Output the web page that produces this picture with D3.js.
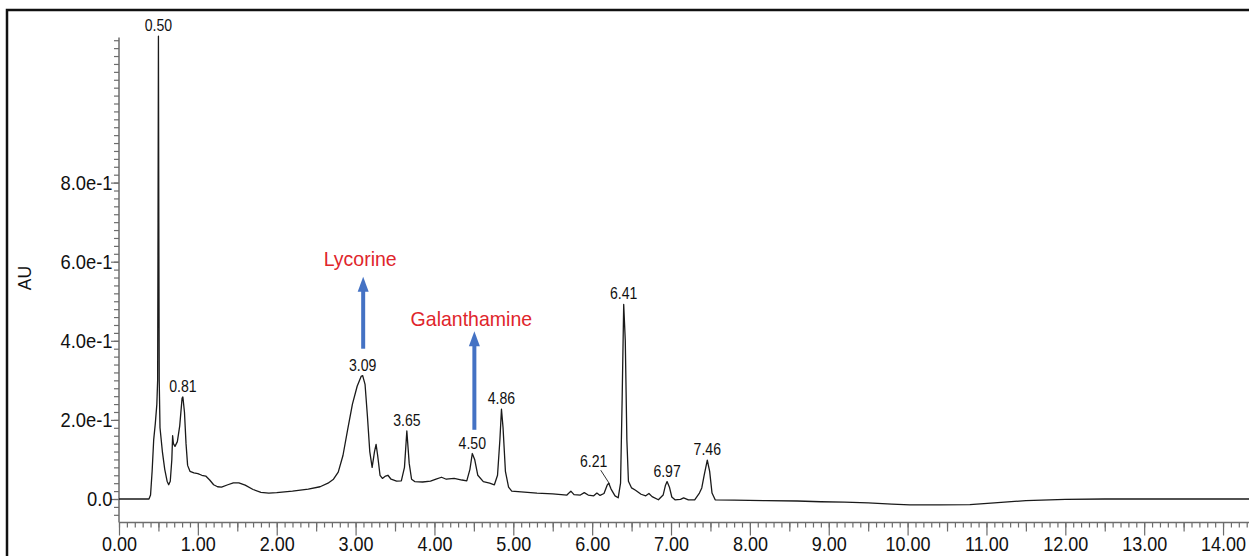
<!DOCTYPE html>
<html>
<head>
<meta charset="utf-8">
<script src="https://cdn.jsdelivr.net/npm/d3@7"></script>
<style>
  html, body { margin: 0; padding: 0; background: #fff; }
  svg { display: block; font-family: "Liberation Sans", Arial, sans-serif; }
</style>
</head>
<body>
<svg id="chart" width="1249" height="556"></svg>
<script>
// Chromatogram trace: retention time (min) and absorbance (AU)
const traceTime = [
  0.00, 0.38, 0.40, 0.42, 0.44, 0.46, 0.48, 0.49, 0.495, 0.50, 0.505, 0.51, 0.52, 0.55, 0.58, 0.61, 0.63,
  0.65, 0.67, 0.68, 0.69, 0.71, 0.74, 0.77, 0.80, 0.81, 0.83, 0.85, 0.87, 0.90, 0.95, 1.00, 1.05, 1.10,
  1.15, 1.20, 1.25, 1.30, 1.38, 1.45, 1.52, 1.60, 1.70, 1.80, 1.90, 2.00, 2.20, 2.40, 2.55, 2.65, 2.72,
  2.78, 2.84, 2.90, 2.96, 3.02, 3.07, 3.09, 3.12, 3.15, 3.18, 3.21, 3.24, 3.26, 3.28, 3.31, 3.34, 3.38,
  3.41, 3.45, 3.52, 3.58, 3.62, 3.65, 3.68, 3.71, 3.75, 3.85, 3.95, 4.02, 4.09, 4.15, 4.25, 4.35, 4.41,
  4.45, 4.48, 4.51, 4.55, 4.62, 4.70, 4.76, 4.80, 4.83, 4.85, 4.87, 4.90, 4.94, 4.98, 5.10, 5.30, 5.50,
  5.68, 5.73, 5.77, 5.85, 5.90, 5.95, 6.02, 6.06, 6.10, 6.15, 6.19, 6.21, 6.24, 6.29, 6.33, 6.36, 6.38,
  6.40, 6.42, 6.44, 6.46, 6.50, 6.55, 6.62, 6.68, 6.72, 6.76, 6.84, 6.90, 6.93, 6.95, 6.98, 7.01, 7.05,
  7.12, 7.16, 7.22, 7.30, 7.36, 7.39, 7.42, 7.46, 7.49, 7.52, 7.56, 7.80, 8.20, 8.60, 8.90, 9.20, 9.50,
  9.80, 10.03, 10.40, 10.79, 11.10, 11.50, 12.00, 12.50, 13.00, 13.50, 14.00, 14.40
];
const traceAU = [
  0.000, 0.000, 0.010, 0.070, 0.150, 0.190, 0.240, 0.300, 0.700, 1.170, 0.700, 0.300, 0.180, 0.120, 0.075, 0.045, 0.036,
  0.045, 0.100, 0.160, 0.140, 0.133, 0.145, 0.185, 0.255, 0.258, 0.220, 0.140, 0.085, 0.070, 0.066, 0.064, 0.060, 0.058,
  0.048, 0.036, 0.031, 0.030, 0.036, 0.041, 0.041, 0.035, 0.024, 0.017, 0.015, 0.016, 0.020, 0.025, 0.031, 0.040, 0.050,
  0.068, 0.110, 0.176, 0.240, 0.285, 0.310, 0.312, 0.290, 0.210, 0.120, 0.080, 0.120, 0.138, 0.110, 0.060, 0.052, 0.058,
  0.060, 0.050, 0.045, 0.046, 0.080, 0.172, 0.090, 0.050, 0.044, 0.043, 0.045, 0.050, 0.055, 0.050, 0.052, 0.048, 0.046,
  0.075, 0.115, 0.100, 0.060, 0.044, 0.040, 0.036, 0.060, 0.150, 0.227, 0.180, 0.070, 0.030, 0.020, 0.018, 0.015, 0.013,
  0.010, 0.020, 0.011, 0.010, 0.016, 0.010, 0.008, 0.015, 0.009, 0.014, 0.035, 0.040, 0.025, 0.008, 0.003, 0.040, 0.250,
  0.492, 0.400, 0.150, 0.045, 0.028, 0.022, 0.012, 0.008, 0.014, 0.006, -0.002, 0.010, 0.035, 0.044, 0.030, 0.005, -0.002,
  -0.001, 0.003, -0.002, -0.002, 0.015, 0.028, 0.060, 0.098, 0.070, 0.015, -0.002, -0.003, -0.004, -0.005, -0.007, -0.008, -0.010,
  -0.013, -0.015, -0.015, -0.014, -0.010, -0.004, -0.001, 0.000, 0.000, 0.000, 0.000, 0.000
];

// Labelled peaks (retention time label and apex height)
const peakRT = [0.50, 0.81, 3.09, 3.65, 4.50, 4.86, 6.21, 6.41, 6.97, 7.46];
const peakApexTime = [0.50, 0.81, 3.09, 3.65, 4.48, 4.85, 6.21, 6.40, 6.95, 7.46];
const peakApexAU = [1.170, 0.258, 0.312, 0.172, 0.115, 0.227, 0.040, 0.492, 0.044, 0.098];

// Compound annotations with arrows
const compoundNames = ["Lycorine", "Galanthamine"];
const compoundTime = [3.09, 4.50];
const arrowFromAU = [0.380, 0.175];
const arrowToAU = [0.562, 0.424];
const nameAU = [0.588, 0.437];

// Axis ticks
const xMajorTicks = d3.range(0, 15, 1);
const xHalfTicks = d3.range(0.5, 14.5, 1);
const xMinorTicks = d3.range(0, 144).map(i => i / 10);
const yMajorTicks = [0, 0.2, 0.4, 0.6, 0.8];
const yMinorTicks = d3.range(-3, 59).map(i => i / 50);

const svg = d3.select("#chart");

const x = d3.scaleLinear().domain([0, 14.4]).range([119, 119 + 14.4 * 78.86]);
const y = d3.scaleLinear().domain([0, 1]).range([499, 499 - 395.5]);
const yBottom = 522.5;
const yTop = 37.5;

// outer frame
svg.append("rect")
  .attr("x", 7).attr("y", 10)
  .attr("width", 1300).attr("height", 600)
  .attr("fill", "none").attr("stroke", "#111").attr("stroke-width", 2.5);

const axisColor = "#6d6d6d";

// x axis: minor, half and major ticks
function styleAxis(g) {
  g.select(".domain").remove();
  g.selectAll(".tick line").attr("stroke", axisColor).attr("stroke-width", 1.2);
}
svg.append("g").attr("transform", `translate(0,${yBottom})`)
  .call(d3.axisBottom(x).tickValues(xMinorTicks).tickSize(5).tickFormat(""))
  .call(styleAxis);
svg.append("g").attr("transform", `translate(0,${yBottom})`)
  .call(d3.axisBottom(x).tickValues(xHalfTicks).tickSize(9).tickFormat(""))
  .call(styleAxis);
const xMajor = svg.append("g").attr("transform", `translate(0,${yBottom})`)
  .call(d3.axisBottom(x).tickValues(xMajorTicks).tickSize(13).tickPadding(1).tickFormat(d3.format(".2f")))
  .call(styleAxis);
xMajor.selectAll(".tick text")
  .attr("fill", "#111").attr("font-size", 20)
  .attr("transform", "scale(0.9,1)");
svg.append("line")
  .attr("x1", x(0)).attr("x2", 1260).attr("y1", yBottom).attr("y2", yBottom)
  .attr("stroke", axisColor).attr("stroke-width", 1.5);

// y axis
const yMinorVisible = yMinorTicks.filter(v => y(v) >= yTop - 0.5 && y(v) <= yBottom);
svg.append("g").attr("transform", `translate(${x(0)},0)`)
  .call(d3.axisLeft(y).tickValues(yMinorVisible).tickSize(5).tickFormat(""))
  .call(styleAxis);
const yMajor = svg.append("g").attr("transform", `translate(${x(0)},0)`)
  .call(d3.axisLeft(y).tickValues(yMajorTicks).tickSize(8).tickPadding(-1)
    .tickFormat(v => v === 0 ? "0.0" : d3.format(".1e")(v)))
  .call(styleAxis);
yMajor.selectAll(".tick text")
  .attr("fill", "#111").attr("font-size", 20)
  .attr("transform", "scale(0.92,1)");
svg.append("line")
  .attr("x1", x(0)).attr("x2", x(0)).attr("y1", yTop).attr("y2", yBottom)
  .attr("stroke", axisColor).attr("stroke-width", 1.5);

// axis title
svg.append("text")
  .attr("transform", "translate(31,278) rotate(-90) scale(0.92,1)")
  .attr("text-anchor", "middle")
  .attr("font-size", 19).attr("fill", "#111")
  .text("AU");

// chromatogram trace
const trace = traceTime.map((t, i) => [t, traceAU[i]]);
svg.append("path")
  .datum(trace)
  .attr("fill", "none")
  .attr("stroke", "#1a1a1a")
  .attr("stroke-width", 1.3)
  .attr("stroke-linejoin", "round")
  .attr("d", d3.line().x(d => x(d[0])).y(d => y(d[1])));

// peak labels
const labelOffset = { 6.21: [-15, -16] };
peakRT.forEach((rt, i) => {
  const px = x(peakApexTime[i]);
  const py = y(peakApexAU[i]);
  const off = labelOffset[rt] || [0, -5];
  const lx = px + off[0], ly = py + off[1];
  if (labelOffset[rt]) {
    svg.append("line")
      .attr("x1", lx + 7).attr("y1", ly + 3)
      .attr("x2", px + 1).attr("y2", py + 1)
      .attr("stroke", "#333").attr("stroke-width", 1);
  }
  svg.append("text")
    .attr("transform", `translate(${lx},${ly}) scale(0.88,1)`)
    .attr("text-anchor", "middle")
    .attr("font-size", 16).attr("fill", "#111")
    .text(rt.toFixed(2));
});

// compound arrows and names
const arrowColor = "#4472c4";
compoundNames.forEach((name, i) => {
  const ax = x(compoundTime[i]) + 0.5;
  const y0 = y(arrowFromAU[i]);
  const y1 = y(arrowToAU[i]);
  svg.append("line")
    .attr("x1", ax).attr("x2", ax).attr("y1", y0).attr("y2", y1 + 14)
    .attr("stroke", arrowColor).attr("stroke-width", 4);
  svg.append("path")
    .attr("d", `M${ax - 5.5},${y1 + 15} L${ax + 5.5},${y1 + 15} L${ax},${y1} Z`)
    .attr("fill", arrowColor);
  svg.append("text")
    .attr("transform", `translate(${ax - 3},${y(nameAU[i])}) scale(0.93,1)`)
    .attr("text-anchor", "middle")
    .attr("font-size", 21).attr("fill", "#e0252b")
    .text(name);
});
</script>
</body>
</html>
